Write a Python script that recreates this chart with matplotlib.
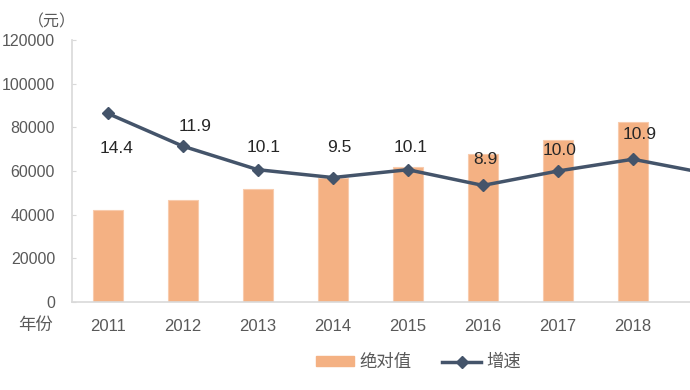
#!/usr/bin/env python3

import numpy as np
import matplotlib.pyplot as plt

plt.rcParams['font.family'] = ['Liberation Sans', 'Noto Sans CJK SC', 'DejaVu Sans']

years = ['2011', '2012', '2013', '2014', '2015', '2016', '2017', '2018']
absolute = [42100, 46600, 51600, 56600, 61800, 68000, 74400, 82600]
growth = [14.4, 11.9, 10.1, 9.5, 10.1, 8.9, 10.0, 10.9, 9.8]   # last point runs off the right edge
growth_labels = ['14.4', '11.9', '10.1', '9.5', '10.1', '8.9', '10.0', '10.9']

BAR = '#F4B183'
LINE = '#44546A'
GRAY = '#595959'


def main():
    fig = plt.figure(figsize=(6.9, 3.9), dpi=100)
    ax = fig.add_axes([0.104, 0.226, 0.896, 0.671])
    x = np.arange(len(years))

    ax.bar(x, absolute, width=0.4, color=BAR, edgecolor='#F8CBAD', linewidth=0.8, zorder=2)
    ax.set_ylim(0, 120000)
    ax.set_yticks(np.arange(0, 120001, 20000))
    ax.set_xlim(-0.48, 7.76)
    ax.set_xticks(x)
    ax.set_xticklabels(years)
    ax.tick_params(axis='y', direction='in', length=3, color='#D9D9D9', labelcolor=GRAY,
                   labelsize=11.5, pad=12)
    ax.tick_params(axis='x', length=0, labelcolor=GRAY, labelsize=12, pad=12)
    for s in ['top', 'right']:
        ax.spines[s].set_visible(False)
    ax.spines['left'].set_color('#D9D9D9')
    ax.spines['bottom'].set_color('#D9D9D9')
    ax.spines['left'].set_linewidth(1.2)
    ax.spines['bottom'].set_linewidth(1.2)

    ax2 = ax.twinx()
    ax2.set_ylim(0, 20)
    ax2.axis('off')
    ax2.plot(np.arange(len(growth)), growth, color=LINE, linewidth=2.5, marker='D',
             markersize=6, zorder=3, clip_on=True)

    offsets = [(6.5, -25), (8.5, 14.5), (4.5, 16), (5, 21.5), (2, 16), (1.5, 19), (1.5, 15), (4.5, 18)]
    for i, (lab, off) in enumerate(zip(growth_labels, offsets)):
        ax2.annotate(lab, (i, growth[i]), xytext=off, textcoords='offset points',
                     ha='center', va='center', fontsize=12.5, color='#262626')

    fig.text(0.075, 0.944, '（元）', ha='center', va='center', fontsize=11.5, color=GRAY,
             family=['Noto Sans CJK SC', 'DejaVu Sans'])
    fig.text(0.052, 0.167, '年份', ha='center', va='center', fontsize=12.5, color=GRAY)

    h1 = plt.Rectangle((0, 0), 1, 1, color=BAR)
    h2, = ax.plot([], [], color=LINE, linewidth=2.5, marker='D', markersize=6)
    fig.legend([h1, h2], ['绝对值', '增速'], loc='center', bbox_to_anchor=(0.606, 0.072),
               ncol=2, frameon=False, fontsize=12.5, labelcolor=GRAY, handlelength=2.2,
               handleheight=0.5, columnspacing=1.8, handletextpad=0.3)

    fig.savefig('out.png', dpi=100)


if __name__ == "__main__":
    main()
